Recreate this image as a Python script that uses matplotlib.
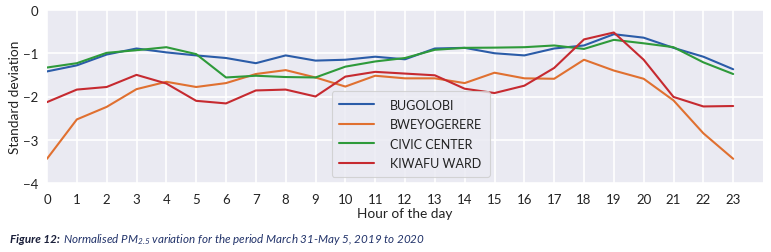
import matplotlib
matplotlib.use("Agg")
import matplotlib.pyplot as plt
import seaborn as sns

hours = list(range(24))
bugolobi = [-1.42, -1.28, -1.03, -0.89, -0.98, -1.05, -1.11, -1.23, -1.05, -1.17, -1.15, -1.08,
            -1.14, -0.89, -0.875, -1.0, -1.05, -0.89, -0.82, -0.56, -0.64, -0.875, -1.08, -1.37]
bweyogerere = [-3.44, -2.53, -2.24, -1.83, -1.66, -1.78, -1.69, -1.48, -1.39, -1.56, -1.77, -1.52,
               -1.58, -1.58, -1.69, -1.45, -1.58, -1.59, -1.15, -1.40, -1.59, -2.09, -2.85, -3.44]
civic = [-1.33, -1.23, -0.99, -0.93, -0.86, -1.02, -1.56, -1.52, -1.55, -1.56, -1.31, -1.19,
         -1.11, -0.92, -0.875, -0.87, -0.86, -0.82, -0.90, -0.69, -0.77, -0.86, -1.21, -1.48]
kiwafu = [-2.13, -1.84, -1.78, -1.50, -1.70, -2.10, -2.16, -1.86, -1.84, -2.0, -1.54, -1.43,
          -1.47, -1.51, -1.82, -1.92, -1.75, -1.34, -0.68, -0.52, -1.15, -2.01, -2.23, -2.22]
series_names = ["BUGOLOBI", "BWEYOGERERE", "CIVIC CENTER", "KIWAFU WARD"]
series = [bugolobi, bweyogerere, civic, kiwafu]
colors = ["#2b5ca8", "#e07030", "#2e9a3a", "#c62a30"]
yticks = [0, -1, -2, -3, -4]

sns.set_style("darkgrid")
plt.rcParams['font.family'] = ['Lato', 'DejaVu Sans']
plt.rcParams['mathtext.fontset'] = 'custom'
plt.rcParams['mathtext.rm'] = 'Lato:italic'
plt.rcParams['mathtext.it'] = 'Lato:italic'

fig = plt.figure(figsize=(7.71, 2.53), dpi=100)
ax = fig.add_axes([47/771, 1-184/253, (763-47)/771, (184-11)/253])
ax.set_facecolor("#EAEAF2")
for name, vals, c in zip(series_names, series, colors):
    ax.plot(hours, vals, color=c, lw=1.5, label=name)

ax.set_xlim(0, 24)
ax.set_ylim(-4, 0)
ax.set_xticks(hours)
ax.set_yticks(yticks)
ax.set_yticklabels(["0", "\u22121", "\u22122", "\u22123", "\u22124"])
ax.tick_params(axis='both', labelsize=9.5, length=0, colors="#222222")
ax.tick_params(axis='x', pad=7)
ax.tick_params(axis='y', pad=6)
for s in ax.spines.values():
    s.set_visible(False)
ax.grid(True, color="white", lw=1.2)
ax.set_xlabel("Hour of the day", fontsize=9.8, labelpad=2, color="#222222")
ax.set_ylabel("Standard deviation", fontsize=9.8, labelpad=2, color="#222222")

leg = ax.legend(loc="lower center", bbox_to_anchor=(0.508, 0.0), fontsize=9,
                frameon=True, facecolor="#EAEAF2", edgecolor="#cccccc",
                handlelength=2.8, labelspacing=0.6, borderpad=0.6, handletextpad=1.3)
leg.get_frame().set_linewidth(0.8)
for t in leg.get_texts():
    t.set_color("#222222")

cap_color = "#22336a"
t1 = fig.text(10/771, 1-240/253, "Figure 12:", fontsize=8.4, fontweight="bold",
              style="italic", color="#1a1f3a", va="center", ha="left")
fig.canvas.draw()
bb = t1.get_window_extent()
x2 = bb.x1 / fig.bbox.width + 3/771
fig.text(x2, 1-240/253, r"Normalised PM$_{2.5}$ variation for the period March 31-May 5, 2019 to 2020",
         fontsize=8.4, style="italic", color=cap_color, va="center", ha="left")

fig.savefig("out.png", dpi=100)
